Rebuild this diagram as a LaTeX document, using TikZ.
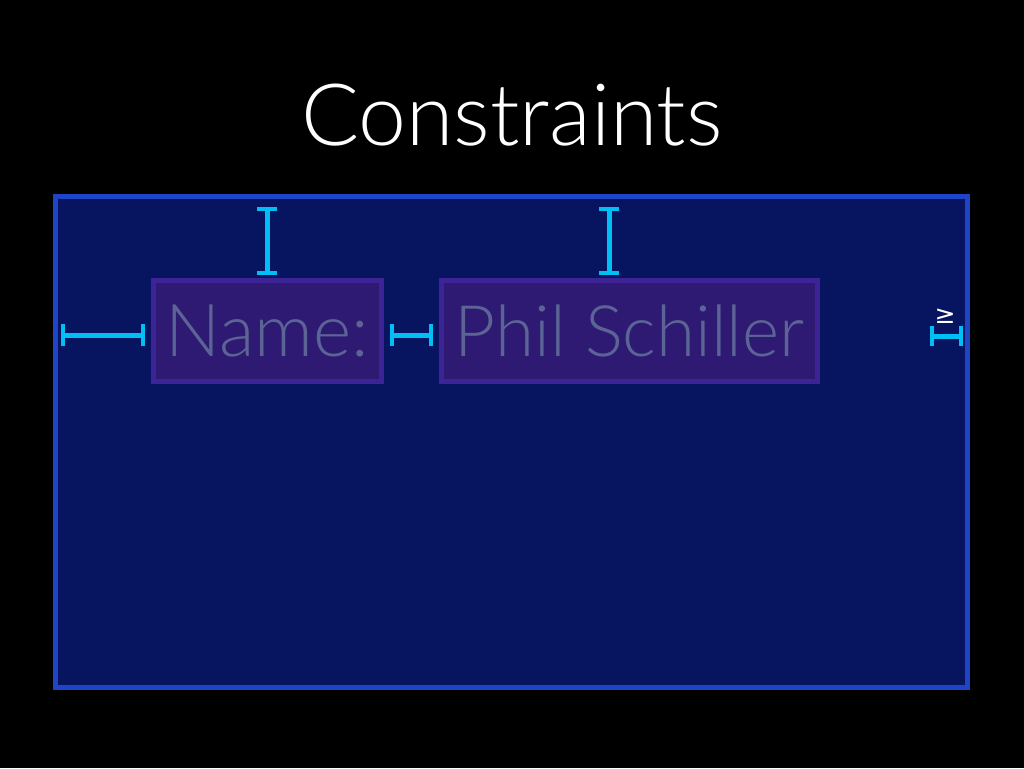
\documentclass[tikz,border=0pt]{standalone}
\usepackage{fontspec}
\setmainfont{Lato}[UprightFont={* Light}]
\newfontfamily\symfont{DejaVu Sans}
\definecolor{bgnavy}{HTML}{071460}
\definecolor{outerblue}{HTML}{1E44C8}
\definecolor{boxfill}{HTML}{2E1A72}
\definecolor{boxline}{HTML}{3C2496}
\definecolor{txtgray}{HTML}{5C6496}
\definecolor{cyanline}{HTML}{00BFF5}
\tikzset{
  fieldbox/.style={draw=boxline, fill=boxfill, line width=5pt, inner sep=0pt,
    minimum height=101pt, text=txtgray, font=\fontsize{73}{73}\selectfont},
  stem/.style={cyanline, line width=5pt},
  capbar/.style={cyanline, line width=4pt},
}
\begin{document}
\begin{tikzpicture}[x=1pt,y=-1pt]
\useasboundingbox (0,0) rectangle (1024,768);
\fill[black] (0,0) rectangle (1024,768);
\node[font=\fontsize{86}{86}\selectfont, text=white, anchor=base] (title) at (512,145) {Constraints};
\draw[outerblue, fill=bgnavy, line width=5pt] (55.5,196.5) rectangle (967.5,687.5);
\node[fieldbox, minimum width=228pt] (name) at (267.5,331) {Name:};
\node[fieldbox, minimum width=376pt] (phil) at (629.5,331) {\fontsize{71}{71}\selectfont Phil Schiller};
% left constraint
\coordinate (l1) at (63,335);
\coordinate (l2) at (143,335);
\draw[stem] (l1) -- (l2);
\draw[capbar] ([yshift=-11pt]l1) -- ([yshift=11pt]l1);
\draw[capbar] ([yshift=-11pt]l2) -- ([yshift=11pt]l2);
% middle constraint
\coordinate (m1) at (392,335);
\coordinate (m2) at (431,335);
\draw[stem] (m1) -- (m2);
\draw[capbar] ([yshift=-11pt]m1) -- ([yshift=11pt]m1);
\draw[capbar] ([yshift=-11pt]m2) -- ([yshift=11pt]m2);
% top constraints
\coordinate (t1) at (267,209);
\coordinate (t2) at (267,273);
\draw[stem] (t1) -- (t2);
\draw[capbar] ([xshift=-10pt]t1) -- ([xshift=10pt]t1);
\draw[capbar] ([xshift=-10pt]t2) -- ([xshift=10pt]t2);
\coordinate (u1) at (609,209);
\coordinate (u2) at (609,273);
\draw[stem] (u1) -- (u2);
\draw[capbar] ([xshift=-10pt]u1) -- ([xshift=10pt]u1);
\draw[capbar] ([xshift=-10pt]u2) -- ([xshift=10pt]u2);
% right constraint
\coordinate (r1) at (932,336);
\coordinate (r2) at (961,336);
\draw[stem] (r1) -- (r2);
\draw[capbar] ([yshift=-10pt]r1) -- ([yshift=10pt]r1);
\draw[capbar] ([yshift=-10pt]r2) -- ([yshift=10pt]r2);
\node[text=white, font=\symfont\fontsize{25}{25}\selectfont, inner sep=0pt] (ge) at (945,316) {≥};
\end{tikzpicture}
\end{document}
